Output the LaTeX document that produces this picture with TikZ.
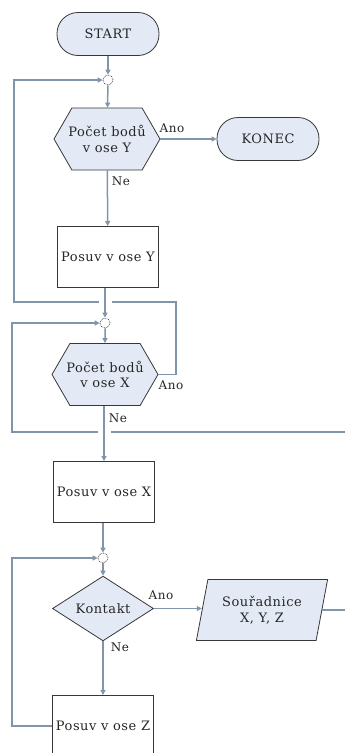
\documentclass[tikz,border=0pt]{standalone}
\usepackage{fontspec}
\setmainfont{DejaVu Serif}[LetterSpace=4]
\usetikzlibrary{shapes.geometric,shapes.symbols,arrows.meta,calc}
\definecolor{shapefill}{RGB}{228,234,245}
\definecolor{edgecol}{RGB}{55,55,55}
\definecolor{linkcol}{RGB}{128,148,170}
\begin{document}
\begin{tikzpicture}[x=1pt,y=-1pt,
  font=\fontsize{13}{15.5}\selectfont,
  every node/.style={text=black!85},
  term/.style={rectangle, rounded corners=21pt, draw=edgecol, fill=shapefill, line width=0.8pt, minimum width=102pt, minimum height=43pt, inner sep=0pt},
  hexa/.style={signal, signal to=east and west, signal pointer angle=120, draw=edgecol, fill=shapefill, line width=0.8pt, minimum width=106pt, minimum height=62pt, inner ysep=0pt, inner xsep=-8pt, align=center},
  joint/.style={circle, draw=edgecol, densely dotted, fill=white, minimum size=10pt, inner sep=0pt, line width=0.7pt},
  procbox/.style={rectangle, draw=edgecol, fill=white, line width=1pt, minimum width=101pt, minimum height=61pt, inner sep=0pt},
  decide/.style={diamond, draw=edgecol, fill=shapefill, line width=0.8pt, minimum width=101pt, minimum height=59pt, inner sep=0pt},
  iobox/.style={trapezium, trapezium left angle=73, trapezium right angle=107, trapezium stretches=true, draw=edgecol, fill=shapefill, line width=0.8pt, minimum width=132pt, minimum height=61pt, inner sep=0pt, align=center},
  link/.style={draw=linkcol, line width=1.5pt, -{Triangle[length=5pt,width=5pt]}},
  loopline/.style={draw=linkcol, line width=1.5pt, -{Triangle[length=5pt,width=5pt]}},
  gap/.style={preaction={draw=white, line width=13pt, -}},
  lbl/.style={inner sep=0pt, font=\fontsize{12}{14}\selectfont}
]
\fill[white] (0,0) rectangle (345,753);
\useasboundingbox (0,0) rectangle (345,753);

% nodes
\node[term] (start) at (108,34) {START};
\node[joint] (c1) at (108,80) {};
\node[hexa] (h1) at (107,139) {Počet bodů\\v ose Y};
\node[term] (konec) at (268,139) {KONEC};
\node[procbox] (boxY) at (108,257) {Posuv v ose Y};
\node[joint] (c2) at (105,323) {};
\node[hexa] (h2) at (105,374.5) {Počet bodů\\v ose X};
\node[procbox] (boxX) at (104,492) {Posuv v ose X};
\node[joint] (c3) at (103,558) {};
\node[decide] (dia) at (103,608.5) {Kontakt};
\node[iobox] (para) at (262,610) {Souřadnice\\X, Y, Z};
\node[procbox] (boxZ) at (103,726) {Posuv v ose Z};

% loop bend points
\coordinate (ra) at (176,302);
\coordinate (la) at (14,302);
\coordinate (rb) at (350,432);
\coordinate (lb) at (12,432);
\coordinate (lc) at (12,640);

% loops (drawn first so crossings get gaps)
\draw[loopline] (h2.east) -| (ra) -- (la) |- (c1.west);
\draw[loopline] (para.east) -| (rb) -- (lb) |- (c2.west);
\draw[loopline] (boxZ.west) -| (lc) |- (c3.west);

% main flow
\draw[link] (start) -- (c1);
\draw[link] (c1) -- (h1);
\draw[link] (h1.east) -- (konec.west);
\draw[link] (h1) -- (boxY);
\draw[link, gap] (boxY.south -| c2) -- (c2);
\draw[link] (c2) -- (h2);
\draw[link, gap] (h2.south -| boxX) -- (boxX.north);
\draw[link] (boxX.south -| c3) -- (c3);
\draw[link] (c3) -- (dia);
\draw[link] (dia.east) -- (dia.east -| para.west);
\draw[link] (dia) -- (boxZ);

% labels
\node[lbl] (l1) at (172,128) {Ano};
\node[lbl] (l2) at (121,181) {Ne};
\node[lbl] (l3) at (171,385) {Ano};
\node[lbl] (l4) at (118,418) {Ne};
\node[lbl] (l5) at (161,595) {Ano};
\node[lbl] (l6) at (120,647) {Ne};
\end{tikzpicture}
\end{document}
